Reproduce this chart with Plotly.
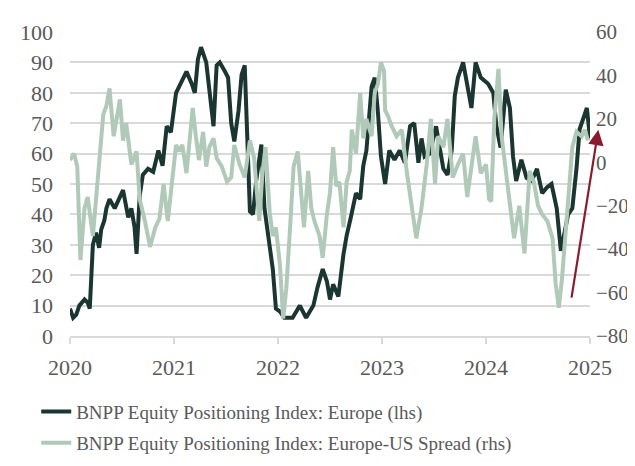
import plotly.graph_objects as go

# Europe positioning index (lhs), x in decimal years
eu_x = [2020.00, 2020.03, 2020.06, 2020.09, 2020.14, 2020.17, 2020.19, 2020.22, 2020.25, 2020.28,
        2020.30, 2020.33, 2020.35, 2020.38, 2020.43, 2020.46, 2020.51, 2020.56, 2020.59, 2020.62,
        2020.64, 2020.67, 2020.70, 2020.75, 2020.80, 2020.85, 2020.89, 2020.93, 2020.97, 2021.02,
        2021.05, 2021.12, 2021.17, 2021.20, 2021.23, 2021.26, 2021.31, 2021.34, 2021.38, 2021.41,
        2021.44, 2021.49, 2021.52, 2021.55, 2021.58, 2021.62, 2021.65, 2021.68, 2021.70, 2021.73,
        2021.76, 2021.79, 2021.84, 2021.87, 2021.95, 2021.98, 2022.02, 2022.06, 2022.14, 2022.21,
        2022.27, 2022.34, 2022.38, 2022.43, 2022.47, 2022.50, 2022.53, 2022.58, 2022.63, 2022.66,
        2022.70, 2022.75, 2022.79, 2022.82, 2022.85, 2022.87, 2022.90, 2022.93, 2022.96, 2022.99,
        2023.03, 2023.07, 2023.12, 2023.17, 2023.22, 2023.27, 2023.31, 2023.35, 2023.38, 2023.41,
        2023.46, 2023.52, 2023.55, 2023.59, 2023.63, 2023.67, 2023.70, 2023.73, 2023.78, 2023.83,
        2023.86, 2023.90, 2023.95, 2024.02, 2024.07, 2024.10, 2024.14, 2024.19, 2024.23, 2024.26,
        2024.29, 2024.34, 2024.39, 2024.44, 2024.49, 2024.54, 2024.59, 2024.63, 2024.68, 2024.72,
        2024.75, 2024.79, 2024.83, 2024.87, 2024.90, 2024.94, 2024.97, 2025.00]
eu_y = [9, 6, 7, 10, 12, 11, 9, 30, 34, 29,
        35, 38, 42, 45, 42, 44, 48, 39, 42, 36,
        27, 46, 53, 55, 54, 61, 56, 69, 67, 80,
        82, 87, 83, 80, 91, 95, 90, 81, 69, 89,
        90, 87, 85, 70, 64, 74, 86, 89, 69, 41,
        40, 51, 63, 42, 22, 9, 8, 6, 6, 10,
        6, 10, 16, 22, 18, 12, 17, 13, 27, 33,
        39, 47, 45, 56, 61, 69, 82, 85, 74, 59,
        50, 61, 58, 61, 57, 69, 70, 57, 65, 59,
        60, 69, 63, 55, 53, 61, 79, 85, 90, 81,
        75, 90, 85, 83, 80, 69, 62, 81, 75, 59,
        51, 58, 52, 51, 55, 47, 49, 50, 42, 28,
        33, 40, 42, 55, 68, 72, 75, 65]

# Europe-US spread (rhs)
sp_x = [2020.00, 2020.04, 2020.07, 2020.10, 2020.14, 2020.17, 2020.22, 2020.25, 2020.28, 2020.32,
        2020.35, 2020.38, 2020.42, 2020.45, 2020.48, 2020.51, 2020.54, 2020.59, 2020.64, 2020.67,
        2020.72, 2020.77, 2020.82, 2020.86, 2020.90, 2020.94, 2020.99, 2021.02, 2021.05, 2021.08,
        2021.12, 2021.15, 2021.18, 2021.21, 2021.24, 2021.28, 2021.31, 2021.34, 2021.38, 2021.41,
        2021.46, 2021.51, 2021.55, 2021.58, 2021.63, 2021.68, 2021.73, 2021.77, 2021.82, 2021.85,
        2021.88, 2021.92, 2021.95, 2021.98, 2022.02, 2022.05, 2022.08, 2022.12, 2022.15, 2022.19,
        2022.22, 2022.25, 2022.29, 2022.32, 2022.35, 2022.40, 2022.43, 2022.47, 2022.50, 2022.53,
        2022.56, 2022.59, 2022.63, 2022.66, 2022.69, 2022.71, 2022.75, 2022.79, 2022.82, 2022.85,
        2022.90, 2022.93, 2022.96, 2022.99, 2023.02, 2023.03, 2023.06, 2023.09, 2023.14, 2023.19,
        2023.24, 2023.29, 2023.33, 2023.38, 2023.43, 2023.47, 2023.51, 2023.54, 2023.59, 2023.63,
        2023.68, 2023.73, 2023.78, 2023.82, 2023.86, 2023.90, 2023.95, 2024.00, 2024.03, 2024.05,
        2024.08, 2024.11, 2024.12, 2024.15, 2024.19, 2024.24, 2024.27, 2024.32, 2024.37, 2024.42,
        2024.46, 2024.50, 2024.54, 2024.59, 2024.64, 2024.67, 2024.70, 2024.73, 2024.77, 2024.80,
        2024.83, 2024.87, 2024.92, 2024.95, 2024.98]
sp_y = [1, 4, -2, -45, -21, -16, -34, -18, -2, 22,
        26, 34, 12, 22, 29, 10, 18, -1, 5, -17,
        -27, -39, -30, -26, -10, -27, -4, 8, 5, 8,
        -5, 10, 25, 12, 1, 14, -2, 7, 11, 2,
        -2, -9, -7, 8, -1, -7, 10, 2, -27, -5,
        7, -23, -34, -30, -48, -72, -58, -27, -2, 5,
        -14, -30, -4, -21, -27, -34, -44, -24, -14, 7,
        -11, -9, -30, -9, -4, 15, 4, 32, 11, 20,
        12, 32, 36, 46, 42, 24, 21, 17, 12, 15,
        -5, -21, -35, -21, -1, 20, -10, 12, 7, 20,
        -7, -1, 4, -16, -2, 12, -5, -1, -17, -18,
        20, 39, 43, 12, -5, -24, -35, -20, -42, -4,
        -9, -20, -24, -27, -35, -56, -67, -54, -27, -7,
        7, 14, 12, 15, 10]

year_ticks = [2020, 2021, 2022, 2023, 2024, 2025]
lhs_ticks = [0, 10, 20, 30, 40, 50, 60, 70, 80, 90, 100]
rhs_ticks = [-80, -60, -40, -20, 0, 20, 40, 60]

FONT = "Liberation Serif"
GREY = "#595959"
GRID = "#d9d9d9"

fig = go.Figure()
fig.add_trace(go.Scatter(x=eu_x, y=eu_y, mode="lines", legend="legend",
                         name="BNPP Equity Positioning Index: Europe (lhs)",
                         line=dict(color="#1b3630", width=4)))
fig.add_trace(go.Scatter(x=sp_x, y=sp_y, mode="lines", yaxis="y2", legend="legend2",
                         name="BNPP Equity Positioning Index: Europe-US Spread (rhs)",
                         line=dict(color="#b1c9b9", width=4)))

fig.add_annotation(x=2025.08, y=15, xref="x", yref="y2",
                   ax=2024.82, ay=-63, axref="x", ayref="y2",
                   showarrow=True, arrowhead=2, arrowsize=1.4, arrowwidth=2.2,
                   arrowcolor="#8b1a2f", text="")

leg_common = dict(orientation="v", xanchor="left", yanchor="middle",
                  font=dict(size=19, color=GREY), itemwidth=30,
                  bgcolor="rgba(0,0,0,0)", borderwidth=0)

fig.update_layout(
    width=635, height=466,
    margin=dict(l=62, r=53, t=24, b=128),
    paper_bgcolor="white", plot_bgcolor="white",
    font=dict(family=FONT, size=22, color=GREY),
    showlegend=True,
    legend=dict(x=-0.065, y=-0.249, **leg_common),
    legend2=dict(x=-0.065, y=-0.352, **leg_common),
    xaxis=dict(range=[2020, 2025], tickvals=year_ticks, ticktext=[str(t) for t in year_ticks],
               showgrid=False, zeroline=False, showline=True, linecolor=GRID, linewidth=1.5,
               ticks="outside", ticklen=6, tickcolor=GRID, tickwidth=1.5, ticklabelstandoff=5),
    yaxis=dict(range=[0, 100], tickvals=lhs_ticks, showgrid=True, gridcolor=GRID, gridwidth=1.5,
               zeroline=False, ticks="", showline=False, ticklabelstandoff=16),
    yaxis2=dict(range=[-80, 60], tickvals=rhs_ticks, overlaying="y", side="right",
                showgrid=False, zeroline=False, showline=False, ticks="", ticklabelstandoff=5,
                tickfont=dict(size=21)),
)

fig.write_html("out.html")
